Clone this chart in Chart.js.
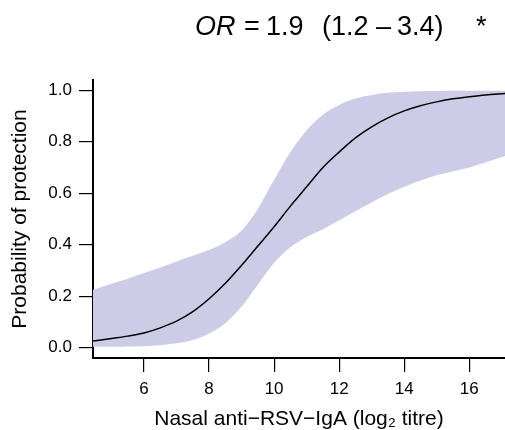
<!DOCTYPE html>
<html>
<head>
<meta charset="utf-8">
<script src="https://cdn.jsdelivr.net/npm/chart.js@4.4.0/dist/chart.umd.min.js"></script>
<style>
  html, body { margin: 0; padding: 0; background: #fff; }
</style>
</head>
<body>
<canvas id="chartOR" width="505" height="430"></canvas>
<script>
// fitted curve
const fitX = [4.43, 5, 5.5, 6, 6.5, 7, 7.5, 8, 8.5, 9, 9.5, 10, 10.5, 11, 11.5, 12, 12.5, 13, 13.5, 14, 14.5, 15, 15.5, 16, 16.5, 17.1];
const fitY = [0.026, 0.036, 0.045, 0.057, 0.077, 0.103, 0.14, 0.19, 0.25, 0.32, 0.395, 0.47, 0.55, 0.625, 0.70, 0.76, 0.815, 0.858, 0.893, 0.92, 0.94, 0.955, 0.967, 0.975, 0.982, 0.988];

// confidence band
const bandX = [4.43, 5, 5.5, 6, 6.5, 7, 7.5, 8, 8.5, 9, 9.5, 10, 10.5, 11, 11.5, 12, 12.5, 13, 13.5, 14, 14.5, 15, 15.5, 16, 16.5, 17.1];
const bandUpper = [0.225, 0.248, 0.268, 0.29, 0.312, 0.335, 0.357, 0.38, 0.41, 0.455, 0.54, 0.652, 0.76, 0.845, 0.905, 0.943, 0.968, 0.982, 0.99, 0.994, 0.996, 0.997, 0.998, 0.998, 0.998, 0.998];
const bandLower = [0.004, 0.004, 0.005, 0.006, 0.01, 0.017, 0.03, 0.055, 0.095, 0.16, 0.245, 0.33, 0.39, 0.43, 0.46, 0.495, 0.53, 0.565, 0.597, 0.625, 0.65, 0.67, 0.685, 0.70, 0.72, 0.745];

const xTicks = [6, 8, 10, 12, 14, 16];
const yTicks = [0, 0.2, 0.4, 0.6, 0.8, 1.0];

const FONT = "'Liberation Sans', Arial, sans-serif";

const toPts = (xs, ys) => xs.map((x, i) => ({ x: x, y: ys[i] }));

// titulo con OR en cursiva
const titlePlugin = {
  id: 'orTitle',
  afterDraw(chart) {
    const c = chart.ctx;
    c.save();
    c.fillStyle = '#000';
    c.textBaseline = 'alphabetic';
    c.font = 'italic 27px ' + FONT;
    c.fillText('OR', 195, 35);
    c.font = '27px ' + FONT;
    c.fillText('=', 244, 35);
    c.fillText('1.9', 266, 35);
    c.fillText('(1.2', 322, 35);
    c.fillText('–', 376, 35);
    c.fillText('3.4)', 397, 35);
    c.fillText('*', 476, 35);
    c.restore();
  }
};

new Chart(document.getElementById('chartOR').getContext('2d'), {
  type: 'line',
  data: {
    datasets: [
      {
        label: 'lower',
        data: toPts(bandX, bandLower),
        borderWidth: 0,
        borderColor: 'rgba(0,0,0,0)',
        pointRadius: 0,
        fill: false,
        order: 2,
        cubicInterpolationMode: 'monotone'
      },
      {
        label: 'upper',
        data: toPts(bandX, bandUpper),
        borderWidth: 0,
        borderColor: 'rgba(0,0,0,0)',
        backgroundColor: 'rgb(204, 204, 230)',
        pointRadius: 0,
        fill: '-1',
        order: 1,
        cubicInterpolationMode: 'monotone'
      },
      {
        label: 'fit',
        data: toPts(fitX, fitY),
        borderColor: '#000',
        borderWidth: 1.5,
        pointRadius: 0,
        fill: false,
        order: 0,
        cubicInterpolationMode: 'monotone'
      }
    ]
  },
  options: {
    responsive: false,
    animation: false,
    devicePixelRatio: 1,
    layout: { padding: { top: 80, left: 0, right: 0, bottom: 0 } },
    plugins: {
      legend: { display: false },
      tooltip: { enabled: false }
    },
    scales: {
      x: {
        type: 'linear',
        min: 4.43,
        max: 17.1,
        afterBuildTicks: s => { s.ticks = xTicks.map(v => ({ value: v })); },
        afterFit: s => { s.height = 72; },
        grid: { display: true, drawOnChartArea: false, drawTicks: true, tickLength: 14, color: '#000', lineWidth: 1.2 },
        border: { display: true, color: '#000', width: 2 },
        ticks: { color: '#000', font: { family: FONT, size: 17 }, padding: 7, maxRotation: 0, autoSkip: false },
        title: {
          display: true,
          text: 'Nasal anti\u2212RSV\u2212IgA (log\u2082 titre)',
          color: '#000',
          font: { family: FONT, size: 21, lineHeight: 1.0 },
          padding: { top: 0, bottom: 0 }
        }
      },
      y: {
        min: -0.04,
        max: 1.04,
        afterBuildTicks: s => { s.ticks = yTicks.map(v => ({ value: v })); },
        afterFit: s => { s.width = 93; },
        grid: { display: true, drawOnChartArea: false, drawTicks: true, tickLength: 14, color: '#000', lineWidth: 1.2 },
        border: { display: true, color: '#000', width: 2 },
        ticks: { color: '#000', font: { family: FONT, size: 17 }, padding: 7, callback: v => v.toFixed(1) },
        title: {
          display: true,
          text: 'Probability of protection',
          color: '#000',
          font: { family: FONT, size: 21 },
          padding: { top: 8, bottom: 0 }
        }
      }
    }
  },
  plugins: [titlePlugin]
});
</script>
</body>
</html>
